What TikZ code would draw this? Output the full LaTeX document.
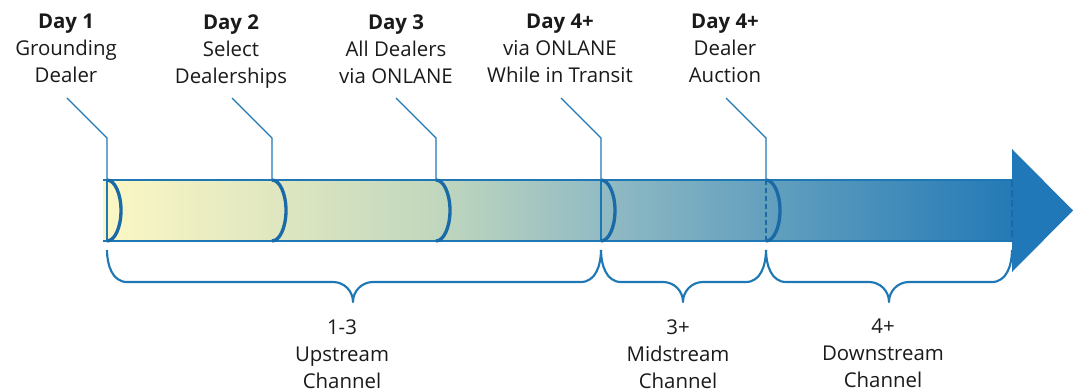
\documentclass[tikz,border=0pt]{standalone}
\usepackage{fontspec}
\setmainfont{Open Sans}
\definecolor{lineblue}{HTML}{1F77B4}
\definecolor{arcblue}{HTML}{1A6AA8}
\definecolor{headblue}{HTML}{2078B8}
\definecolor{txt}{HTML}{1A1A1A}
\definecolor{c0}{RGB}{251,247,196}
\definecolor{c1}{RGB}{224,231,192}
\definecolor{c2}{RGB}{193,215,190}
\definecolor{c3}{RGB}{146,187,195}
\definecolor{c4}{RGB}{99,160,190}
\definecolor{c5}{RGB}{36,122,182}
% horizontal ramp along the timeline bar (25bp..75bp spans the bar)
\pgfdeclarehorizontalshading{barshade}{100bp}{color(0bp)=(c0); color(25.2bp)=(c0);
  color(34.3bp)=(c1); color(43.3bp)=(c2); color(52.4bp)=(c3); color(61.5bp)=(c4);
  color(75bp)=(c5); color(100bp)=(c5)}
\begin{document}
\begin{tikzpicture}[x=0.75pt,y=-0.75pt,
  lbl/.style={align=center,anchor=north,inner sep=0pt,text=txt,
    font=\fontsize{15.3}{20.25}\selectfont},
  callout/.style={draw=lineblue,line width=0.9pt},
  rim/.style={draw=arcblue,line width=2.5pt},
  edge/.style={draw=lineblue,line width=0.9pt},
  brace/.style={draw=lineblue,line width=1.6pt,line join=round}]
\useasboundingbox (0,0) rectangle (1079,392);
\clip (0,0) rectangle (1079,392);

% bar body and arrow head
\fill[shading=barshade] (103,180) rectangle (1012,241);
\fill[headblue] (1012,149) -- (1073,210.5) -- (1012,272) -- cycle;
\draw[edge] (103,180) -- (1012,180) (103,241) -- (1012,241);

% segment boundaries on the bar
\coordinate (b1) at (107,180);
\coordinate (b2) at (272,180);
\coordinate (b3) at (436,180);
\coordinate (b4) at (601,180);
\coordinate (b5) at (766,180);
\coordinate (b6) at (1012,180);
\draw[edge] (b1) -- ++(0,61);
\draw[edge] (b4) -- ++(0,61);
\draw[draw=arcblue,line width=1.5pt,dash pattern=on 4pt off 2pt] (b5) -- ++(0,61);
\draw[draw=arcblue,line width=2pt,dash pattern=on 5pt off 2.5pt] (b6) -- ++(0,61);
\foreach \p in {b1,b2,b3,b4,b5}
  \draw[rim] (\p) arc[start angle=-90,end angle=90,x radius=14,y radius=30.5];

% milestone labels
\node[lbl] (d1) at (66,14) {\textbf{Day 1}\\Grounding\\Dealer};
\node[lbl] (d2) at (231,14) {\textbf{Day 2}\\Select\\Dealerships};
\node[lbl] (d3) at (396,14) {\textbf{Day 3}\\All Dealers\\via ONLANE};
\node[lbl] (d4) at (560,14) {\textbf{Day 4+}\\via ONLANE\\While in Transit};
\node[lbl] (d5) at (725,14) {\textbf{Day 4+}\\Dealer\\Auction};

% callout leaders
\foreach \i/\x in {1/107,2/272,3/436,4/601,5/766}{
  \coordinate (t\i) at (\x-40,98);
  \draw[callout] (t\i) -- ++(40,40) -- (b\i);
}

% braces under the bar
\coordinate (u1) at (107,250);
\coordinate (u2) at (601,250);
\coordinate (u3) at (766,250);
\coordinate (u4) at (1012,250);
\coordinate (m1) at (353,302);
\coordinate (m2) at (683,302);
\coordinate (m3) at (889,302);
\foreach \a/\m/\b in {u1/m1/u2,u2/m2/u3,u3/m3/u4}{
  \draw[brace] (\a) to[out=-90,in=180] ++(20,32) -- ([xshift=-20*0.75pt,yshift=20*0.75pt]\m)
    to[out=0,in=90] (\m) to[out=90,in=180] ([xshift=20*0.75pt,yshift=20*0.75pt]\m)
    -- ([xshift=-20*0.75pt,yshift=-32*0.75pt]\b) to[out=0,in=-90] (\b);
}

% channel labels
\node[lbl] (s1) at (342,319) {1-3\\Upstream\\Channel};
\node[lbl] (s2) at (678,319) {3+\\Midstream\\Channel};
\node[lbl] (s3) at (883,319) {4+\\Downstream\\Channel};
\end{tikzpicture}
\end{document}
